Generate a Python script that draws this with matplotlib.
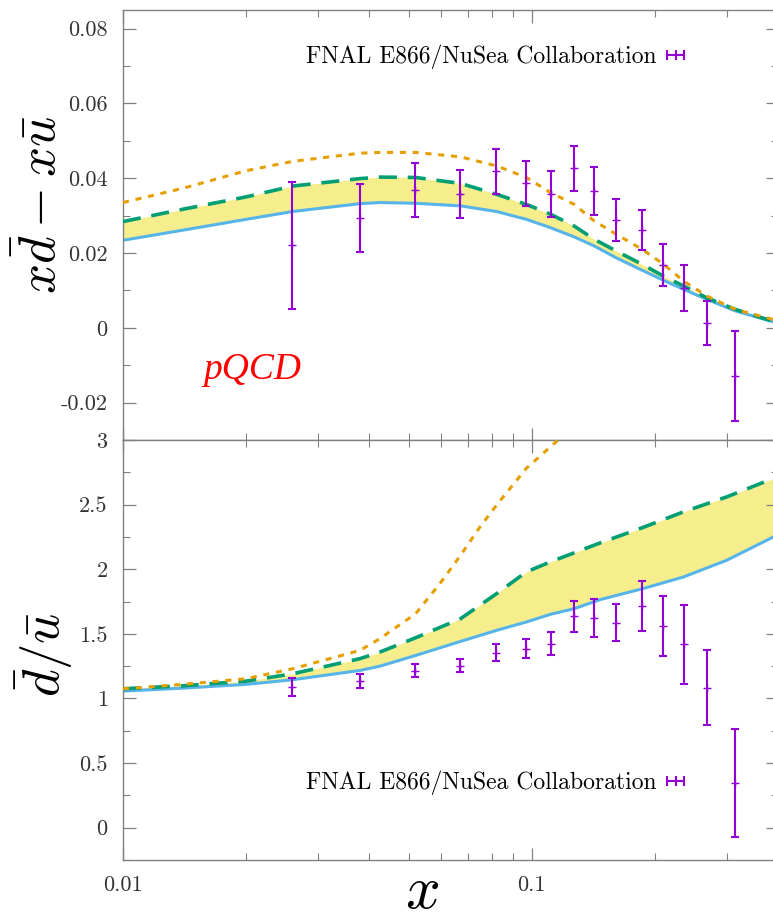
import numpy as np
import matplotlib.pyplot as plt
from matplotlib.ticker import MultipleLocator, LogLocator, FuncFormatter, NullFormatter
from matplotlib.lines import Line2D

plt.rcParams['font.family'] = 'serif'
plt.rcParams['font.serif'] = ['cmr10', 'DejaVu Serif']
plt.rcParams['mathtext.fontset'] = 'cm'
plt.rcParams['axes.formatter.use_mathtext'] = True

# E866/NuSea points
x_data = [0.0259, 0.0379, 0.0518, 0.0668, 0.0817, 0.0967, 0.1113, 0.1265,
          0.1416, 0.1606, 0.1858, 0.2099, 0.235, 0.268, 0.3145]
diff_val = [0.0221, 0.0294, 0.0368, 0.0358, 0.0418, 0.0387, 0.0357, 0.0427,
            0.0365, 0.0288, 0.0261, 0.0168, 0.0107, 0.0013, -0.0129]
diff_err = [0.0170, 0.0090, 0.0072, 0.0065, 0.0059, 0.0060, 0.0062, 0.0060,
            0.0064, 0.0056, 0.0053, 0.0056, 0.0062, 0.0058, 0.0120]
ratio_val = [1.088, 1.134, 1.215, 1.253, 1.354, 1.385, 1.424, 1.636,
             1.625, 1.587, 1.713, 1.561, 1.421, 1.083, 0.346]
ratio_err = [0.068, 0.052, 0.048, 0.052, 0.065, 0.075, 0.090, 0.121,
             0.147, 0.146, 0.194, 0.235, 0.306, 0.290, 0.420]

# model curves, top panel (x dbar - x ubar)
x_top = [0.01, 0.014, 0.02, 0.026, 0.038, 0.0425, 0.052, 0.067, 0.082, 0.097,
         0.111, 0.127, 0.142, 0.161, 0.186, 0.21, 0.235, 0.268, 0.315, 0.39, 0.4]
diff_lo = [0.0234, 0.0261, 0.0290, 0.0311, 0.0332, 0.0335, 0.0333, 0.0326, 0.0311,
           0.0290, 0.0268, 0.0243, 0.0219, 0.0187, 0.0154, 0.0127, 0.0103, 0.0076,
           0.0045, 0.0016, 0.0013]
diff_hi = [0.0284, 0.0317, 0.0350, 0.0379, 0.0399, 0.0403, 0.0402, 0.0386, 0.0357,
           0.0330, 0.0304, 0.0272, 0.0237, 0.0205, 0.0170, 0.0138, 0.0112, 0.0080,
           0.0049, 0.0017, 0.0014]
diff_pqcd = [0.0335, 0.0373, 0.0420, 0.0445, 0.0467, 0.0469, 0.0469, 0.0457, 0.0433,
             0.0402, 0.0362, 0.0330, 0.0286, 0.0250, 0.0210, 0.0170, 0.0125, 0.0085,
             0.0049, 0.0022, 0.0019]

# model curves, bottom panel (dbar / ubar)
x_bot = [0.01, 0.014, 0.02, 0.026, 0.038, 0.0425, 0.052, 0.067, 0.082, 0.097,
         0.111, 0.127, 0.147, 0.187, 0.235, 0.30, 0.39, 0.4]
ratio_lo = [1.057, 1.080, 1.109, 1.145, 1.217, 1.250, 1.333, 1.442, 1.527, 1.592,
            1.651, 1.695, 1.765, 1.850, 1.940, 2.070, 2.250, 2.270]
ratio_hi = [1.075, 1.098, 1.134, 1.191, 1.308, 1.359, 1.470, 1.618, 1.811, 1.979,
            2.057, 2.127, 2.204, 2.323, 2.444, 2.560, 2.703, 2.720]
x_pqcd = [0.01, 0.014, 0.02, 0.026, 0.038, 0.0425, 0.052, 0.0596, 0.067, 0.0747,
          0.082, 0.097, 0.116, 0.125]
ratio_pqcd = [1.075, 1.109, 1.153, 1.230, 1.372, 1.463, 1.656, 1.889, 2.109, 2.328,
              2.496, 2.781, 3.0, 3.12]

purple = '#9400d3'
green = '#009e73'
blue = '#56b4e9'
orange = '#e69f00'
yellow = '#f0e442'
gray = '#808080'
label_text = 'FNAL E866/NuSea Collaboration'

fig = plt.figure(figsize=(7.73, 9.22), dpi=100)
ax1 = fig.add_axes([0.1591, 0.5228, 0.8473, 0.4664])
ax2 = fig.add_axes([0.1591, 0.0672, 0.8473, 0.4556])


def style_axis(ax):
    ax.set_xscale('log')
    ax.set_xlim(0.01, 0.4)
    for s in ax.spines.values():
        s.set_color(gray)
        s.set_linewidth(1.0)
    ax.tick_params(which='both', direction='in', top=True, right=True,
                   color=gray, labelcolor='#333333', labelsize=16, pad=11)
    ax.tick_params(which='major', length=9, width=0.9)
    ax.tick_params(which='minor', length=5, width=0.8)
    ax.xaxis.set_major_locator(LogLocator(base=10, numticks=5))
    ax.xaxis.set_minor_locator(LogLocator(base=10, subs=np.arange(2, 10), numticks=20))
    ax.xaxis.set_minor_formatter(NullFormatter())
    ax.xaxis.set_major_formatter(FuncFormatter(lambda v, p: f'{v:g}'))
    ax.yaxis.set_major_formatter(FuncFormatter(lambda v, p: f'{v:g}'))


def add_legend(ax, ypos):
    handle = Line2D([], [], color=purple, lw=1.5, marker='|', ms=7, mew=1.5)
    ax.legend([handle], [label_text], loc='center right', bbox_to_anchor=(0.868, ypos),
              frameon=False, markerfirst=False, numpoints=3, fontsize=17,
              handlelength=1.35, handletextpad=0.15, borderaxespad=0, borderpad=0)


# top panel
style_axis(ax1)
ax1.fill_between(x_top, diff_lo, diff_hi, color=yellow, alpha=0.6, lw=0, zorder=1)
ax1.plot(x_top, diff_lo, color=blue, lw=2.2, zorder=2)
ax1.plot(x_top, diff_hi, color=green, lw=2.6, ls=(0, (5, 3)), zorder=3)
ax1.plot(x_top, diff_pqcd, color=orange, lw=2.2, ls=(0, (2, 2.2)), zorder=3)
ax1.errorbar(x_data, diff_val, yerr=diff_err, fmt='+', color=purple, ms=6,
             elinewidth=1.5, capsize=3, capthick=1.5, zorder=4)
ax1.set_ylim(-0.03, 0.085)
ax1.yaxis.set_major_locator(MultipleLocator(0.02))
ax1.yaxis.set_minor_locator(MultipleLocator(0.01))
ax1.tick_params(axis='x', labelbottom=False)
for t in ax1.yaxis.get_major_ticks():
    if abs(t.get_loc()) < 1e-9:
        t.tick1line.set_color('red')
        t.tick2line.set_color('red')
ax1.set_ylabel(r'$x\bar{d} - x\bar{u}$', fontsize=38, va='center')
ax1.yaxis.set_label_coords(-0.124, 0.547)
ax1.text(0.197, 0.163, 'pQCD', color='red', fontsize=27, family='Liberation Serif',
         style='italic', ha='center', va='center', transform=ax1.transAxes)
add_legend(ax1, 0.891)

# bottom panel
style_axis(ax2)
ax2.fill_between(x_bot, ratio_lo, ratio_hi, color=yellow, alpha=0.6, lw=0, zorder=1)
ax2.plot(x_bot, ratio_lo, color=blue, lw=2.2, zorder=2)
ax2.plot(x_bot, ratio_hi, color=green, lw=2.6, ls=(0, (5, 3)), zorder=3)
ax2.plot(x_pqcd, ratio_pqcd, color=orange, lw=2.2, ls=(0, (2, 2.2)), zorder=3)
ax2.errorbar(x_data, ratio_val, yerr=ratio_err, fmt='+', color=purple, ms=6,
             elinewidth=1.5, capsize=3, capthick=1.5, zorder=4)
ax2.set_ylim(-0.25, 3)
ax2.yaxis.set_major_locator(MultipleLocator(0.5))
ax2.yaxis.set_minor_locator(MultipleLocator(0.25))
ax2.set_ylabel(r'$\bar{d}/\bar{u}$', fontsize=38, va='center')
ax2.yaxis.set_label_coords(-0.12, 0.488)
ax2.set_xlabel(r'$x$', fontsize=44, va='center')
ax2.xaxis.set_label_coords(0.456, -0.076)
add_legend(ax2, 0.183)

fig.savefig('out.png', dpi=100)
